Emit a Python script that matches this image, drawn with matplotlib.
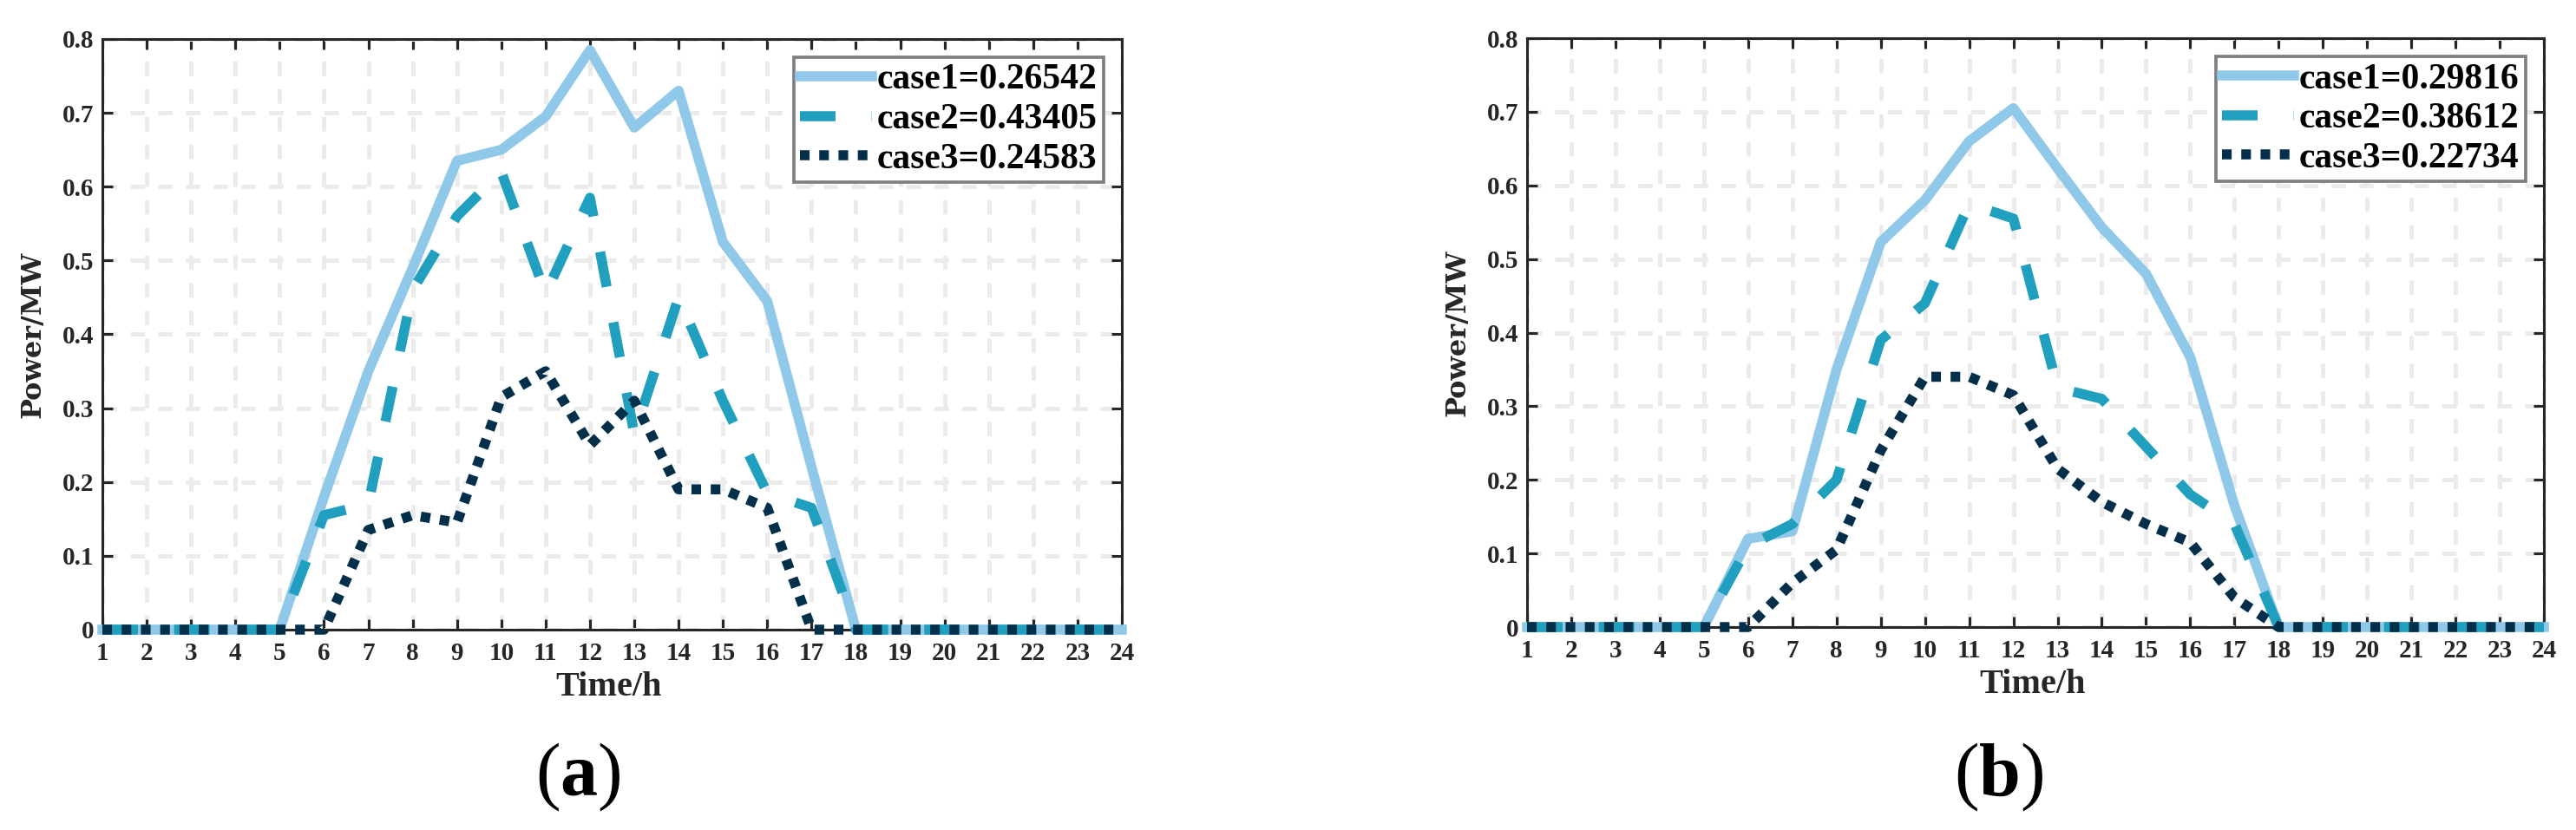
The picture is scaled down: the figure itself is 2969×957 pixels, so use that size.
import matplotlib
matplotlib.use('Agg')
import matplotlib.pyplot as plt
import numpy as np

hours = np.arange(1, 25)

# panel (a)
case1_a = [0, 0, 0, 0, 0, 0.18, 0.35, 0.49, 0.635, 0.65, 0.695, 0.785,
           0.68, 0.73, 0.525, 0.445, 0.22, 0, 0, 0, 0, 0, 0, 0]
case2_a = [0, 0, 0, 0, 0, 0.155, 0.17, 0.46, 0.56, 0.62, 0.455, 0.585,
           0.265, 0.45, 0.31, 0.185, 0.165, 0, 0, 0, 0, 0, 0, 0]
case3_a = [0, 0, 0, 0, 0, 0, 0.135, 0.155, 0.145, 0.315, 0.35, 0.25,
           0.31, 0.19, 0.19, 0.165, 0, 0, 0, 0, 0, 0, 0, 0]
labels_a = ['case1=0.26542', 'case2=0.43405', 'case3=0.24583']

# panel (b)
case1_b = [0, 0, 0, 0, 0, 0.12, 0.13, 0.35, 0.523, 0.58, 0.66, 0.705,
           0.623, 0.543, 0.48, 0.367, 0.165, 0, 0, 0, 0, 0, 0, 0]
case2_b = [0, 0, 0, 0, 0, 0.11, 0.14, 0.2, 0.39, 0.44, 0.575, 0.555,
           0.325, 0.31, 0.245, 0.18, 0.14, 0, 0, 0, 0, 0, 0, 0]
case3_b = [0, 0, 0, 0, 0, 0, 0.06, 0.105, 0.24, 0.34, 0.34, 0.315,
           0.215, 0.17, 0.14, 0.115, 0.04, 0, 0, 0, 0, 0, 0, 0]
labels_b = ['case1=0.29816', 'case2=0.38612', 'case3=0.22734']

yticks = [0, 0.1, 0.2, 0.3, 0.4, 0.5, 0.6, 0.7, 0.8]
ytick_labels = ['0', '0.1', '0.2', '0.3', '0.4', '0.5', '0.6', '0.7', '0.8']

colors = ['#8fc8e8', '#219fbe', '#032f4b']
dark = '#262626'

plt.rcParams['lines.scale_dashes'] = False
plt.rcParams['mathtext.fontset'] = 'custom'
plt.rcParams['mathtext.rm'] = 'Liberation Serif'
plt.rcParams['mathtext.bf'] = 'Liberation Serif:bold'

fig = plt.figure(figsize=(29.69, 9.57), dpi=100)
ax_a = fig.add_axes([0.03974, 0.2414, 0.39576, 0.7116])
ax_b = fig.add_axes([0.5928, 0.2445, 0.39475, 0.7095])


def draw_panel(ax, c1, c2, c3, labels, tag, tag_x):
    lw = 8.3
    ax.plot(hours, c1, color=colors[0], lw=lw, label=labels[0],
            zorder=3, clip_on=False)
    ax.plot(hours, c2, color=colors[1], lw=lw, dashes=(29.5, 30),
            dash_capstyle='butt', label=labels[1], zorder=4, clip_on=False)
    ax.plot(hours, c3, color=colors[2], lw=lw, dashes=(8, 8),
            dash_capstyle='butt', label=labels[2], zorder=5, clip_on=False)

    ax.set_xlim(1, 24)
    ax.set_ylim(0, 0.8)
    ax.set_xticks(hours)
    ax.set_yticks(yticks)
    ax.set_yticklabels(ytick_labels)
    ax.grid(True, color='#ebebeb', lw=3.6, dashes=(12, 11), zorder=0)
    ax.set_axisbelow(True)

    for sp in ax.spines.values():
        sp.set_linewidth(2.2)
        sp.set_color(dark)
    ax.tick_params(direction='in', length=8.5, width=2.2, color=dark,
                   top=True, right=True, labelcolor=dark)
    ax.tick_params(axis='x', pad=10)
    ax.tick_params(axis='y', pad=7)
    for lab in ax.get_xticklabels() + ax.get_yticklabels():
        lab.set_fontfamily('Liberation Serif')
        lab.set_fontweight('bold')
        lab.set_fontsize(21)

    ax.set_xlabel('Time/h', family='Liberation Serif', weight='bold',
                  fontsize=29, color=dark)
    ax.xaxis.set_label_coords(0.497, -0.07)
    ax.set_ylabel('Power/MW', family='DejaVu Serif', weight='bold',
                  fontsize=23, color=dark)
    ax.yaxis.set_label_coords(-0.055, 0.5)

    leg = ax.legend(loc='upper right', prop={'family': 'Liberation Serif',
                                             'weight': 'bold', 'size': 30},
                    handlelength=1.98, handletextpad=0.15, labelspacing=0.18,
                    borderpad=0.18, borderaxespad=0.5, fancybox=False,
                    framealpha=1, edgecolor='#808080')
    leg.get_frame().set_linewidth(2.7)

    fig.text(tag_x, 0.0637, r'$(\mathbf{' + tag + r'})$', fontsize=62,
             ha='center', va='center', color='black')


draw_panel(ax_a, case1_a, case2_a, case3_a, labels_a, 'a', 0.2243)
draw_panel(ax_b, case1_b, case2_b, case3_b, labels_b, 'b', 0.776)

fig.savefig('out.png', dpi=100)
